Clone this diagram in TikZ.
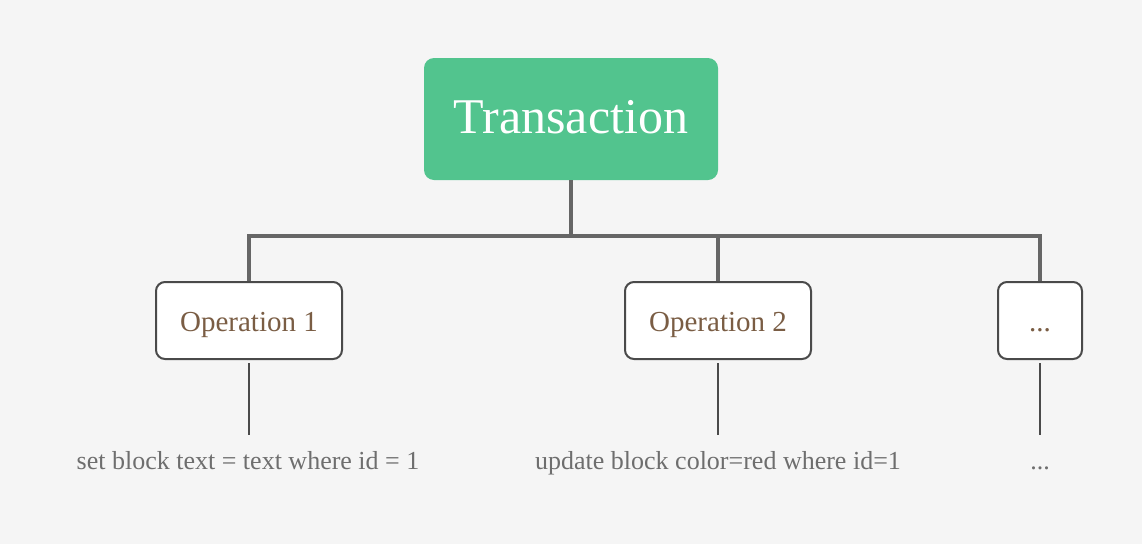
\documentclass[tikz,border=0pt]{standalone}
\usepackage{fontspec}
\setmainfont{Liberation Serif}
\usepackage{tikz}
\usetikzlibrary{calc}
\usepackage{xcolor}
\definecolor{pagebg}{HTML}{F5F5F5}
\definecolor{transgreen}{HTML}{52C48E}
\definecolor{opbrown}{HTML}{7A5D44}
\definecolor{descgray}{HTML}{6E6E6E}
\definecolor{linegray}{HTML}{666666}
\definecolor{boxgray}{HTML}{4A4A4A}

\begin{document}
\begin{tikzpicture}[x=1pt,y=-1pt,
		rootbox/.style={fill=transgreen,text=white,rounded corners=10pt,minimum width=294pt,minimum height=122pt,inner sep=0pt,text height=28pt,text depth=0pt,font=\fontsize{50}{50}\selectfont},
		opbox/.style={draw=boxgray,line width=2pt,fill=white,text=opbrown,rounded corners=9pt,minimum width=186pt,minimum height=77pt,inner sep=0pt,text height=21pt,text depth=0pt,font=\fontsize{29}{29}\selectfont},
		desc/.style={text=descgray,inner sep=0pt,anchor=base,font=\fontsize{26}{26}\selectfont},
		trunk/.style={draw=linegray,line width=4pt},
		leg/.style={draw=boxgray,line width=2pt}]
		
		% Page background
		\fill[pagebg] (0,0) rectangle (1142,544);
		\useasboundingbox (0,0) rectangle (1142,544);
		
		% Root and operations
		\node[rootbox] (trans) at (571,119) {Transaction};
		\node[opbox] (op1) at (249,320.5) {Operation 1};
		\node[opbox] (op2) at (718,320.5) {Operation 2};
		\node[opbox,minimum width=84pt] (opdots) at (1040,320.5) {...};
		
		% Statements under each operation
		\node[desc] (desc1) at (248,469) {set block text = text where id = 1};
		\node[desc] (desc2) at (718,469) {update block color=red where id=1};
		\node[desc] (descdots) at (1040,469) {...};
		
		% Tree connectors
		\coordinate (bar) at (571,236);
		\draw[trunk] (trans) -- (bar);
		\draw[trunk] (op1.north) |- (opdots.north |- bar) -- (opdots.north);
		\draw[trunk] (op2.north) -- (op2.north |- bar);
		
		% Legs down to the statements
		\coordinate (legend) at (0,435);
		\draw[leg] ([yshift=-3pt]op1.south) -- (op1.south |- legend);
		\draw[leg] ([yshift=-3pt]op2.south) -- (op2.south |- legend);
		\draw[leg] ([yshift=-3pt]opdots.south) -- (opdots.south |- legend);
		
	\end{tikzpicture}
\end{document}
